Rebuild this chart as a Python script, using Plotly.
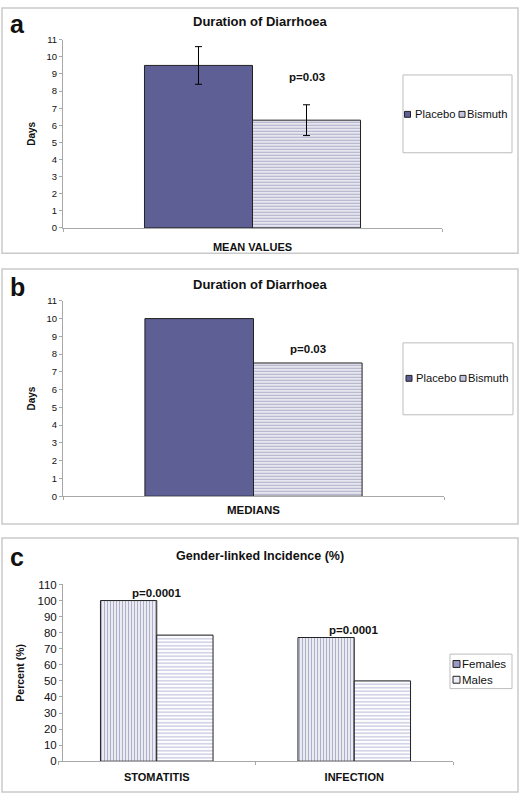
import plotly.graph_objects as go

# ---------------- data ----------------
cat_a = ["MEAN VALUES"]
cat_b = ["MEDIANS"]
groups_ab = ["Placebo", "Bismuth"]
mean_placebo = [9.5]
mean_bismuth = [6.3]
err_placebo = [1.1]
err_bismuth = [0.9]
median_placebo = [10.0]
median_bismuth = [7.5]
p_ab = ["p=0.03"]

cat_c = ["STOMATITIS", "INFECTION"]
groups_c = ["Females", "Males"]
females = [100, 77]
males = [78.5, 50]
p_c = ["p=0.0001", "p=0.0001"]

titles = ["Duration of Diarrhoea", "Duration of Diarrhoea", "Gender-linked Incidence (%)"]
panel_labels = ["a", "b", "c"]
y_titles = ["Days", "Days", "Percent (%)"]
yticks_ab = list(range(0, 12))
yticks_c = list(range(0, 111, 10))

# ---------------- style ----------------
W, H = 520, 800
PLACEBO = "#5e5f95"
EDGE = "#222222"
AXIS = "#a8a8a8"
FRAME = "#cacaca"
FONT = "Liberation Sans, Arial, sans-serif"
BARGAP = 0.43


def fx(px):
    return px / W


def fy(py):
    return 1 - py / H


fig = go.Figure()

bar_line = dict(color=EDGE, width=1)
err_style = dict(type="data", color="black", thickness=1, width=3.5, visible=True)
stripe_h = dict(shape="-", fgcolor=PLACEBO, bgcolor="white", size=3, solidity=0.55)

# panel a
fig.add_trace(go.Bar(x=cat_a, y=mean_placebo, name=groups_ab[0], xaxis="x", yaxis="y",
                     marker=dict(color=PLACEBO, line=bar_line),
                     error_y=dict(array=err_placebo, **err_style), showlegend=False))
fig.add_trace(go.Bar(x=cat_a, y=mean_bismuth, name=groups_ab[1], xaxis="x", yaxis="y",
                     marker=dict(color="white", line=bar_line, pattern=stripe_h),
                     error_y=dict(array=err_bismuth, **err_style), showlegend=False))
# panel b
fig.add_trace(go.Bar(x=cat_b, y=median_placebo, name=groups_ab[0], xaxis="x2", yaxis="y2",
                     marker=dict(color=PLACEBO, line=bar_line), showlegend=False))
fig.add_trace(go.Bar(x=cat_b, y=median_bismuth, name=groups_ab[1], xaxis="x2", yaxis="y2",
                     marker=dict(color="white", line=bar_line, pattern=stripe_h),
                     showlegend=False))
# panel c
fig.add_trace(go.Bar(x=cat_c, y=females, name=groups_c[0], xaxis="x3", yaxis="y3",
                     marker=dict(color="white", line=bar_line,
                                 pattern=dict(shape="|", fgcolor=PLACEBO, bgcolor="white",
                                              size=3, solidity=0.5)),
                     showlegend=False))
fig.add_trace(go.Bar(x=cat_c, y=males, name=groups_c[1], xaxis="x3", yaxis="y3",
                     marker=dict(color="white", line=bar_line,
                                 pattern=dict(shape="-", fgcolor="#a9a9d2", bgcolor="white",
                                              size=3.5, solidity=0.5)),
                     showlegend=False))

# ---------------- axes ----------------
def yax(domain, rng, ticks, fsize, title, tsize, standoff):
    return dict(domain=domain, range=rng, tickmode="array", tickvals=ticks,
                showline=True, linecolor=AXIS, linewidth=1, ticks="outside", ticklen=3,
                tickcolor=AXIS, showgrid=False, zeroline=False, fixedrange=True,
                tickfont=dict(family=FONT, size=fsize, color="#111"),
                title=dict(text=title, standoff=standoff,
                           font=dict(family=FONT, size=tsize, color="#111", weight="bold")))


def xax(domain, anchor, fsize, standoff):
    return dict(domain=domain, anchor=anchor, type="category", showline=True, linecolor=AXIS,
                linewidth=1, ticks="outside", ticklen=3, tickcolor=AXIS, tickson="boundaries",
                showgrid=False, zeroline=False, fixedrange=True, ticklabelstandoff=standoff,
                tickfont=dict(family=FONT, size=fsize, color="#111", weight="bold"))


layout = dict(
    width=W, height=H, margin=dict(l=0, r=0, t=0, b=0),
    paper_bgcolor="white", plot_bgcolor="white",
    barmode="group", bargap=BARGAP, bargroupgap=0,
    font=dict(family=FONT, color="#111"),
    xaxis=xax([fx(63), fx(442)], "y", 11, 9),
    yaxis=yax([fy(225.3), fy(34.3)], [0, 11], yticks_ab, 9.5, y_titles[0], 10, 9),
    xaxis2=xax([fx(63), fx(444)], "y2", 11.5, 3),
    yaxis2=yax([fy(497.7), fy(299.3)], [0, 11], yticks_ab, 9.5, y_titles[1], 10, 9),
    xaxis3=xax([fx(58), fx(453)], "y3", 11, 6),
    yaxis3=yax([fy(766.7), fy(587.3)], [0, 110], yticks_c, 11.5, y_titles[2], 10.5, 10),
)
fig.update_layout(**layout)

shapes = []
annotations = []

# panel frames
for top, bottom in [(2, 251), (267, 526), (540, 798)]:
    shapes.append(dict(type="rect", xref="paper", yref="paper", x0=fx(2), x1=fx(518),
                       y0=fy(bottom), y1=fy(top), line=dict(color=FRAME, width=1.5)))

# titles and panel letters
for t, yc, fs in zip(titles, [16, 283, 558], [13, 13, 12.5]):
    annotations.append(dict(text=t, xref="paper", yref="paper", x=fx(260), y=fy(yc),
                            xanchor="center", yanchor="middle", showarrow=False,
                            font=dict(family=FONT, size=fs, color="#111", weight="bold")))
for lab, xc, yc in zip(panel_labels, [17, 17, 17], [18, 285, 559]):
    annotations.append(dict(text=lab, xref="paper", yref="paper", x=fx(xc), y=fy(yc),
                            xanchor="center", yanchor="middle", showarrow=False,
                            font=dict(family=FONT, size=25, color="#111", weight="bold")))

# p-values
PFONT = dict(family=FONT, size=11.5, color="#111", weight="bold")
off = (1 - BARGAP) / 4
annotations.append(dict(text=p_ab[0], xref="x", yref="y", x=off,
                        y=mean_bismuth[0] + err_bismuth[0], yshift=20,
                        xanchor="center", yanchor="bottom", showarrow=False, font=PFONT))
annotations.append(dict(text=p_ab[0], xref="x2", yref="y2", x=off,
                        y=median_bismuth[0], yshift=6,
                        xanchor="center", yanchor="bottom", showarrow=False, font=PFONT))
for i, (p, v) in enumerate(zip(p_c, females)):
    annotations.append(dict(text=p, xref="x3", yref="y3", x=i, y=v, yshift=0,
                            xanchor="center", yanchor="bottom", showarrow=False, font=PFONT))

# manual legends
def legend_box(x0, x1, y0, y1):
    shapes.append(dict(type="rect", xref="paper", yref="paper", x0=fx(x0), x1=fx(x1),
                       y0=fy(y1), y1=fy(y0), fillcolor="white",
                       line=dict(color="#bdbdbd", width=1)))


def legend_item(name, sx, sy, size, fill, tx, fs):
    shapes.append(dict(type="rect", xref="paper", yref="paper",
                       x0=fx(sx), x1=fx(sx + size), y0=fy(sy + size / 2), y1=fy(sy - size / 2),
                       fillcolor=fill, line=dict(color=EDGE, width=1)))
    annotations.append(dict(text=name, xref="paper", yref="paper", x=fx(tx), y=fy(sy),
                            xanchor="left", yanchor="middle", showarrow=False,
                            font=dict(family=FONT, size=fs, color="#111")))


legend_box(403, 512, 70, 149)
legend_item(groups_ab[0], 404.5, 110, 6, PLACEBO, 413, 11.2)
legend_item(groups_ab[1], 459, 110, 6, "#c4c4de", 465, 11.2)

legend_box(403, 513, 342, 415)
legend_item(groups_ab[0], 406, 378, 6, PLACEBO, 414, 11.2)
legend_item(groups_ab[1], 460, 378, 6, "#c4c4de", 466, 11.2)

legend_box(450, 512, 658, 693)
legend_item(groups_c[0], 453, 668, 7, "#9a9ac4", 460, 11.5)
legend_item(groups_c[1], 453, 684, 7, "#ececf4", 460, 11.5)

fig.update_layout(shapes=shapes, annotations=annotations)
fig.write_html("out.html", config={"displayModeBar": False},
               post_script="document.body.style.margin='0';document.body.style.padding='0';")
